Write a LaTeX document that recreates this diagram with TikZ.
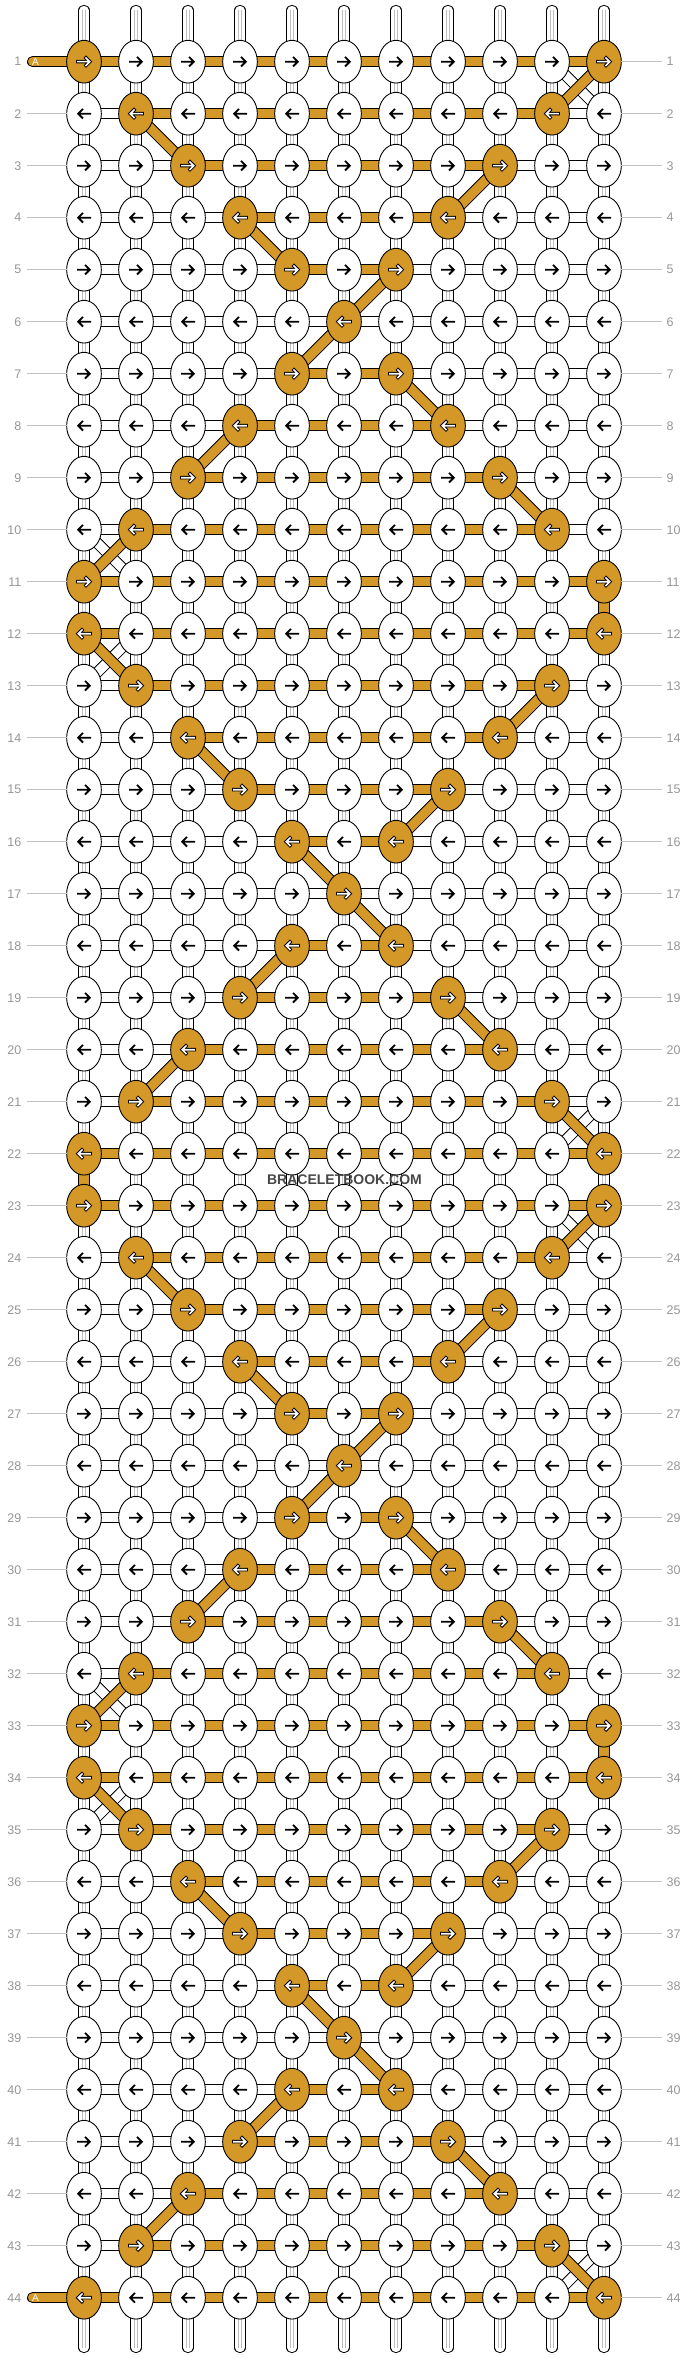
\documentclass[tikz,border=0pt]{standalone}
\usepackage{fontspec}
\setmainfont{Liberation Sans}
\usetikzlibrary{shapes.geometric}

\definecolor{thread}{RGB}{211,152,40}
\definecolor{labelgray}{RGB}{150,150,150}
\definecolor{linegray}{RGB}{195,195,195}

\pgfdeclarelayer{strands}
\pgfdeclarelayer{crossing}
\pgfdeclarelayer{threadpath}
\pgfsetlayers{strands,crossing,threadpath,main}

\tikzset{
	knot/.style={ellipse, draw, line width=0.9pt, fill=white, minimum width=34.7pt, minimum height=42.7pt, inner sep=0pt, outer sep=0pt},
	goldknot/.style={knot, fill=thread},
	band/.style={draw=black, line width=1pt, double distance=9.3pt},
	whiteband/.style={band, double=white},
	goldband/.style={band, double=thread},
	grain/.style={draw=black!25, line width=0.7pt},
	rowlabel/.style={text=labelgray, inner sep=0pt, font=\fontsize{12.5}{14}\selectfont},
	labelline/.style={draw=linegray, line width=0.9pt},
	blackarr/.pic={\draw[line width=1.8pt, xscale=#1] (-7,0) -- (5.6,0) (1,-4.8) -- (5.8,0) -- (1,4.8);},
	whitearr/.pic={
		\draw[line width=3.5pt, xscale=#1] (-7.8,0) -- (5.6,0) (0.8,-5) -- (5.8,0) -- (0.8,5);
		\draw[white, line width=1.6pt, xscale=#1] (-6.9,0) -- (5.6,0) (1.45,-4.35) -- (5.8,0) -- (1.45,4.35);}
}

\begin{document}
\begin{tikzpicture}[x=1pt, y=-1pt]
\useasboundingbox (0,0) rectangle (688,2360);

% knots, arrows and row numbers
\foreach \row in {1,...,44}{
	\pgfmathtruncatemacro\off{abs(mod(\row-1,11)-5)}
	\pgfmathtruncatemacro\dir{2*mod(\row,2)-1}
	\foreach \col in {1,...,11}{
		\pgfmathtruncatemacro\isgold{or(\col==6-\off,\col==6+\off)}
		\ifnum\isgold=1
			\node[goldknot] (k-\row-\col) at ({32+52*\col},{9.7+52*\row}) {};
			\pic at (k-\row-\col) {whitearr=\dir};
		\else
			\node[knot] (k-\row-\col) at ({32+52*\col},{9.7+52*\row}) {};
			\pic at (k-\row-\col) {blackarr=\dir};
		\fi
	}
	\node[rowlabel, anchor=east] (ll-\row) at (21.5,{9.7+52*\row}) {\row};
	\node[rowlabel, anchor=west] (rl-\row) at (666.5,{9.7+52*\row}) {\row};
	\draw[labelline] (k-\row-11) -- ([xshift=-4.5pt]rl-\row.west);
}
\foreach \row in {2,...,43}
	\draw[labelline] ([xshift=5pt]ll-\row.east) -- (k-\row-1);

% thread A comes in and goes out on the left
\foreach \row in {1,44}{
	\coordinate (tail-\row) at (32.6,{9.7+52*\row});
	\begin{pgfonlayer}{strands}
		\draw[goldband, line cap=round] (tail-\row) -- (k-\row-1.center);
	\end{pgfonlayer}
	\node[text=white, inner sep=0pt, font=\fontsize{10}{10}\selectfont] (tag-\row) at (35.5,{9.7+52*\row}) {A};
}

% strings at top and bottom
\begin{pgfonlayer}{strands}
\foreach \col in {1,...,11}{
	\coordinate (top-\col) at ({32+52*\col},10.5);
	\coordinate (bot-\col) at ({32+52*\col},2347.5);
	\draw[whiteband, line cap=round] (top-\col) -- (k-1-\col.center);
	\draw[whiteband, line cap=round] (bot-\col) -- (k-44-\col.center);
	\draw[grain] ([xshift=-1.6pt]top-\col) -- ([xshift=-1.6pt]k-1-\col.center)
		([xshift=1.6pt]top-\col) -- ([xshift=1.6pt]k-1-\col.center)
		([xshift=-1.6pt]bot-\col) -- ([xshift=-1.6pt]k-44-\col.center)
		([xshift=1.6pt]bot-\col) -- ([xshift=1.6pt]k-44-\col.center);
}
\end{pgfonlayer}

% horizontal pieces
\begin{pgfonlayer}{strands}
\foreach \row in {1,...,44}{
	\pgfmathtruncatemacro\off{abs(mod(\row-1,11)-5)}
	\foreach \col [evaluate=\col as \nxt using int(\col+1)] in {1,...,10}{
		\pgfmathtruncatemacro\isgold{and(\col>=6-\off,\nxt<=6+\off)}
		\ifnum\isgold=1 \draw[goldband] (k-\row-\col.center) -- (k-\row-\nxt.center);
		\else \draw[whiteband] (k-\row-\col.center) -- (k-\row-\nxt.center);\fi
	}
}
\end{pgfonlayer}

% vertical pieces and the turns of thread A
\foreach \row in {1,...,43}{
	\pgfmathtruncatemacro\below{\row+1}
	\pgfmathtruncatemacro\ecol{6+(2*mod(\row,2)-1)*abs(mod(\row-1,11)-5)}
	\pgfmathtruncatemacro\scol{6+(2*mod(\row,2)-1)*abs(mod(\row,11)-5)}
	\begin{pgfonlayer}{strands}
	\foreach \col in {1,...,11}{
		\pgfmathtruncatemacro\isgold{and(\ecol==\scol,\col==\ecol)}
		\ifnum\isgold=1 \draw[goldband] (k-\row-\col.center) -- (k-\below-\col.center);
		\else
			\draw[whiteband] (k-\row-\col.center) -- (k-\below-\col.center);
			\draw[grain] ([xshift=-1.6pt]k-\row-\col.center) -- ([xshift=-1.6pt]k-\below-\col.center)
				([xshift=1.6pt]k-\row-\col.center) -- ([xshift=1.6pt]k-\below-\col.center);
		\fi
	}
	\end{pgfonlayer}
	\ifnum\ecol=\scol\else
		\begin{pgfonlayer}{threadpath}
			\draw[goldband] (k-\row-\ecol.center) -- (k-\below-\scol.center);
		\end{pgfonlayer}
		\pgfmathtruncatemacro\edge{or(or(\ecol==1,\ecol==11),or(\scol==1,\scol==11))}
		\ifnum\edge=1
			\begin{pgfonlayer}{crossing}
				\draw[whiteband] (k-\row-\scol.center) -- (k-\below-\ecol.center);
			\end{pgfonlayer}
		\fi
	\fi
}

\node[text=black!72, inner sep=0pt, font=\bfseries\fontsize{14}{14}\selectfont] (mark) at (344.5,1179.7) {BRACELETBOOK.COM};
\end{tikzpicture}
\end{document}
